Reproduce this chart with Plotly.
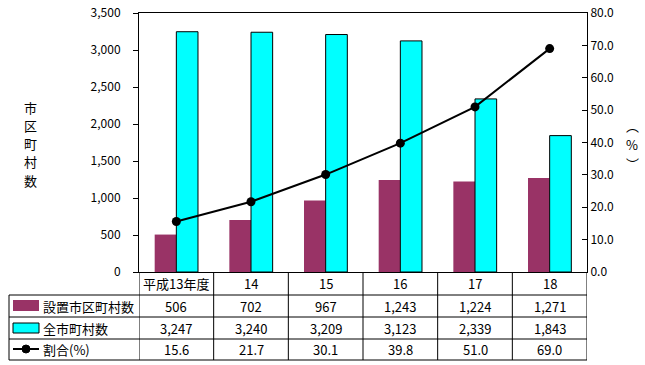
import plotly.graph_objects as go

categories = ["平成13年度", "14", "15", "16", "17", "18"]
setchi = [506, 702, 967, 1243, 1224, 1271]
zen = [3247, 3240, 3209, 3123, 2339, 1843]
wariai = [15.6, 21.7, 30.1, 39.8, 51.0, 69.0]
row_names = ["設置市区町村数", "全市町村数", "割合(%)"]
left_title = ["市", "区", "町", "村", "数"]
right_title = ["︵", "%", "︶"]

FONT = "Noto Sans CJK JP"
PURPLE = "#993366"
CYAN = "#00FFFF"

W, H = 645, 365
L, R, T, B = 139, 58, 13, 93
PW = W - L - R
PH = H - T - B


def px(X):
    return (X - L) / PW


def py(Y):
    return (H - B - Y) / PH


fig = go.Figure()
fig.add_trace(go.Bar(x=categories, y=setchi, marker=dict(color=PURPLE, line=dict(width=0)),
                     name=row_names[0]))
fig.add_trace(go.Bar(x=categories, y=zen, marker=dict(color=CYAN, line=dict(color="black", width=1)),
                     name=row_names[1]))
fig.add_trace(go.Scatter(x=categories, y=wariai, yaxis="y2", mode="lines+markers",
                         line=dict(color="black", width=2),
                         marker=dict(color="black", size=9), name=row_names[2]))

shapes = []
for Y in [295, 317, 339, 360]:
    shapes.append(dict(type="line", xref="paper", yref="paper", x0=px(9), x1=1, y0=py(Y), y1=py(Y),
                       line=dict(color="black", width=1)))
shapes.append(dict(type="line", xref="paper", yref="paper", x0=px(9), x1=px(9), y0=py(295), y1=py(360),
                   line=dict(color="black", width=1)))
for i in range(len(categories) + 1):
    shapes.append(dict(type="line", xref="x", yref="paper", x0=i - 0.5, x1=i - 0.5, y0=py(272), y1=py(360),
                       line=dict(color="black", width=1)))
shapes.append(dict(type="rect", xref="paper", yref="paper", x0=px(13), x1=px(39), y0=py(311), y1=py(300),
                   fillcolor=PURPLE, line=dict(width=0)))
shapes.append(dict(type="rect", xref="paper", yref="paper", x0=px(13), x1=px(39), y0=py(333), y1=py(323),
                   fillcolor=CYAN, line=dict(color="black", width=1)))
shapes.append(dict(type="line", xref="paper", yref="paper", x0=px(13), x1=px(39), y0=py(349), y1=py(349),
                   line=dict(color="black", width=2)))
shapes.append(dict(type="circle", xref="paper", yref="paper", x0=px(22), x1=px(30), y0=py(353), y1=py(345),
                   fillcolor="black", line=dict(color="black", width=1)))

tf = dict(family=FONT, size=13, color="black")
annotations = []


def ann(x, y, text, xref="paper", xanchor="center"):
    annotations.append(dict(x=x, xref=xref, y=y, yref="paper", text=text, showarrow=False,
                            xanchor=xanchor, yanchor="middle", font=tf))


for i, c in enumerate(categories):
    for Y, txt in [(283.5, c), (306, f"{setchi[i]:,}"), (328, f"{zen[i]:,}"), (349.5, f"{wariai[i]:.1f}")]:
        ann(i, py(Y), txt, xref="x")
for name, Y in zip(row_names, [306, 328, 349.5]):
    ann(px(41), py(Y), name, xanchor="left")
for k, ch in enumerate(left_title):
    ann(px(30), py(107 + 18.3 * k), ch)
for k, ch in enumerate(right_title):
    ann(px(632), py(125 + 19 * k), ch)

fig.update_layout(
    template="none",
    width=W, height=H,
    margin=dict(l=L, r=R, t=T, b=B, pad=0),
    paper_bgcolor="white", plot_bgcolor="white",
    showlegend=False,
    barmode="group", bargap=0.42, bargroupgap=0,
    font=dict(family=FONT, size=12, color="black"),
    xaxis=dict(type="category", range=[-0.5, 5.5], showticklabels=False, ticks="", automargin=False,
               showline=True, linecolor="black", linewidth=1, mirror=True, showgrid=False, zeroline=False),
    yaxis=dict(range=[0, 3500], dtick=500, tickformat=",d", ticks="outside", ticklen=5, automargin=False,
               tickcolor="black", showline=True, linecolor="black", linewidth=1, showgrid=False,
               zeroline=False, ticklabelstandoff=10, tickfont=dict(family=FONT, size=12)),
    yaxis2=dict(range=[0, 80], dtick=10, tickformat=".1f", ticks="inside", ticklen=5, automargin=False,
                tickcolor="black", overlaying="y", side="right", showline=True, linecolor="black",
                linewidth=1, showgrid=False, zeroline=False, tickfont=dict(family=FONT, size=12)),
    shapes=shapes,
    annotations=annotations,
)

fig.write_html("out.html", config={"displayModeBar": False},
               post_script="document.body.style.margin='0px';")
